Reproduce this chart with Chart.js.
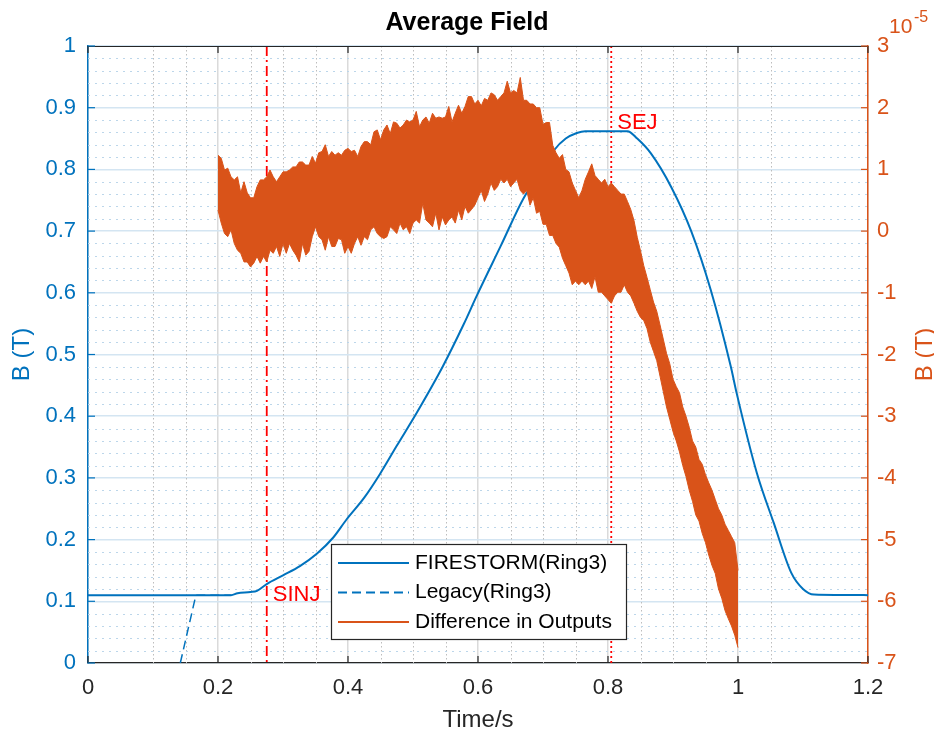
<!DOCTYPE html>
<html>
<head>
<meta charset="utf-8">
<script src="https://cdn.jsdelivr.net/npm/chart.js@4.4.1/dist/chart.umd.min.js"></script>
<style>
  html, body { margin: 0; padding: 0; background: #fff; }
</style>
</head>
<body>
<canvas id="field-chart" width="934" height="736"></canvas>
<script>
// FIRESTORM(Ring3) average field, B (T) on the left axis
const fireTime = [0, 0.22, 0.23, 0.25, 0.26, 0.275, 0.30, 0.326, 0.352, 0.377,
  0.398, 0.425, 0.449, 0.475, 0.506, 0.546, 0.578, 0.598, 0.635, 0.671,
  0.70, 0.717, 0.735, 0.752, 0.765, 0.83, 0.845, 0.866, 0.897, 0.928,
  0.958, 0.989, 0.998, 1.029, 1.055, 1.082, 1.10, 1.117, 1.2]
const fireField = [0.11, 0.11, 0.113, 0.115, 0.117, 0.128, 0.142, 0.157, 0.177, 0.203,
  0.233, 0.268, 0.306, 0.352, 0.406, 0.481, 0.549, 0.595, 0.676, 0.755,
  0.80, 0.831, 0.85, 0.859, 0.862, 0.862, 0.85, 0.826, 0.772, 0.70,
  0.605, 0.48, 0.437, 0.308, 0.227, 0.146, 0.12, 0.111, 0.11]

// Legacy(Ring3), only visible where it leaves the FIRESTORM trace
const legacyTime = [0.142, 0.166, 0.22]
const legacyField = [0, 0.11, 0.11]

// Difference in outputs (x1e-5 T, right axis): top and bottom edge of the noisy band
const diffTime = [0.200, 0.205, 0.210, 0.215, 0.220, 0.225, 0.230, 0.235, 0.240, 0.245,
  0.250, 0.255, 0.260, 0.265, 0.270, 0.275, 0.280, 0.285, 0.290, 0.295,
  0.300, 0.305, 0.310, 0.315, 0.320, 0.325, 0.330, 0.335, 0.340, 0.345,
  0.350, 0.355, 0.360, 0.365, 0.370, 0.375, 0.380, 0.385, 0.390, 0.395,
  0.400, 0.405, 0.410, 0.415, 0.420, 0.425, 0.430, 0.435, 0.440, 0.445,
  0.450, 0.455, 0.460, 0.465, 0.470, 0.475, 0.480, 0.485, 0.490, 0.495,
  0.500, 0.505, 0.510, 0.515, 0.520, 0.525, 0.530, 0.535, 0.540, 0.545,
  0.550, 0.555, 0.560, 0.565, 0.570, 0.575, 0.580, 0.585, 0.590, 0.595,
  0.600, 0.605, 0.610, 0.615, 0.620, 0.625, 0.630, 0.635, 0.640, 0.645,
  0.650, 0.655, 0.660, 0.665, 0.670, 0.675, 0.680, 0.685, 0.690, 0.695,
  0.700, 0.705, 0.710, 0.715, 0.720, 0.725, 0.730, 0.735, 0.740, 0.745,
  0.750, 0.755, 0.760, 0.765, 0.770, 0.775, 0.780, 0.785, 0.790, 0.795,
  0.800, 0.805, 0.810, 0.815, 0.820, 0.825, 0.830, 0.835, 0.840, 0.845,
  0.850, 0.855, 0.860, 0.865, 0.870, 0.875, 0.880, 0.885, 0.890, 0.895,
  0.900, 0.905, 0.910, 0.915, 0.920, 0.925, 0.930, 0.935, 0.940, 0.945,
  0.950, 0.955, 0.960, 0.965, 0.970, 0.975, 0.980, 0.985, 0.990, 0.995, 1.000]
const diffUpper = [1.23, 1.18, 0.99, 1.02, 0.88, 0.83, 0.88, 0.62, 0.80, 0.62,
  0.54, 0.54, 0.72, 0.83, 0.83, 0.88, 0.99, 0.88, 0.80, 0.88,
  0.96, 0.96, 0.99, 1.04, 1.04, 1.12, 1.12, 1.07, 1.07, 1.21,
  1.10, 1.27, 1.29, 1.40, 1.21, 1.29, 1.23, 1.27, 1.23, 1.31,
  1.34, 1.29, 1.31, 1.21, 1.37, 1.45, 1.45, 1.40, 1.61, 1.64,
  1.48, 1.64, 1.72, 1.58, 1.77, 1.75, 1.67, 1.72, 1.80, 1.77,
  1.80, 1.94, 1.69, 1.80, 1.85, 1.75, 1.91, 1.83, 1.85, 1.83,
  1.85, 2.02, 1.77, 1.91, 2.04, 1.91, 2.02, 2.18, 2.18, 2.06,
  2.12, 2.03, 2.15, 2.12, 2.24, 2.21, 2.12, 2.18, 2.24, 2.43,
  2.24, 2.28, 2.24, 2.49, 2.12, 2.12, 2.06, 2.06, 2.00, 2.00,
  1.73, 1.76, 1.76, 1.39, 1.27, 1.18, 1.24, 1.00, 0.96, 0.78,
  0.66, 0.54, 0.66, 0.84, 0.96, 1.09, 0.90, 0.84, 0.78, 0.84,
  0.72, 0.78, 0.72, 0.66, 0.60, 0.60, 0.48, 0.35, 0.17, -0.10,
  -0.32, -0.56, -0.75, -0.95, -1.15, -1.30, -1.52, -1.75, -1.98, -2.15,
  -2.40, -2.52, -2.62, -2.85, -3.00, -3.18, -3.40, -3.50, -3.70, -3.78,
  -3.95, -4.08, -4.20, -4.35, -4.50, -4.60, -4.75, -4.85, -4.95, -5.05, -5.50]
const diffLower = [0.34, 0.13, -0.04, -0.09, 0.02, -0.20, -0.31, -0.36, -0.50, -0.50,
  -0.58, -0.52, -0.41, -0.52, -0.41, -0.50, -0.31, -0.36, -0.25, -0.41,
  -0.20, -0.36, -0.20, -0.31, -0.39, -0.50, -0.20, -0.39, -0.33, -0.09,
  0.07, -0.09, -0.14, -0.31, -0.09, -0.25, -0.25, -0.12, -0.14, -0.36,
  -0.25, -0.36, -0.20, -0.09, -0.23, -0.09, -0.14, 0.02, 0.07, -0.04,
  -0.09, -0.12, -0.09, 0.07, 0.02, -0.04, 0.13, 0.02, 0.07, -0.04,
  0.13, 0.18, 0.13, 0.45, 0.18, 0.13, 0.07, 0.29, 0.02, 0.23,
  0.10, 0.18, 0.23, 0.13, 0.34, 0.18, 0.40, 0.29, 0.35, 0.42,
  0.54, 0.66, 0.48, 0.60, 0.78, 0.66, 0.72, 0.84, 0.78, 0.84,
  0.72, 0.78, 0.84, 0.66, 0.60, 0.66, 0.42, 0.54, 0.29, 0.32,
  0.11, 0.11, -0.07, -0.07, -0.20, -0.26, -0.44, -0.56, -0.68, -0.87,
  -0.81, -0.87, -0.81, -0.87, -0.81, -0.93, -0.74, -0.99, -0.99, -1.05,
  -1.11, -1.17, -1.05, -0.99, -0.99, -0.87, -0.99, -1.05, -1.17, -1.30,
  -1.40, -1.45, -1.58, -1.80, -1.95, -2.10, -2.35, -2.60, -2.85, -3.05,
  -3.25, -3.40, -3.58, -3.80, -3.98, -4.20, -4.38, -4.60, -4.70, -4.90,
  -5.05, -5.25, -5.42, -5.55, -5.80, -5.95, -6.15, -6.28, -6.40, -6.55, -6.75]

// injection / extraction markers
const markerTime = [0.275, 0.805]
const markerText = ['SINJ', 'SEJ']
const markerTextField = [0.11, 0.875]

const minorTimeTicks = [0.1, 0.15, 0.25, 0.3, 0.35, 0.45, 0.5, 0.55, 0.65, 0.7, 0.75, 0.85, 0.9, 0.95, 1.05]

const blue = '#0072BD'
const orange = '#D95319'
const axisGrey = '#262626'
const fontName = '"Liberation Sans", Arial, Helvetica, sans-serif'
Chart.defaults.font.family = fontName

function pairs(xs, ys) {
  return xs.map((x, i) => ({ x: x, y: ys[i] }))
}

function plainTick(value) {
  return String(Number(value.toFixed(2)))
}

const minorGrid = {
  id: 'minorGrid',
  beforeDatasetsDraw(chart) {
    const { ctx, chartArea: ca, scales } = chart
    ctx.save()
    ctx.lineWidth = 1
    ctx.strokeStyle = '#bdbdbd'
    ctx.setLineDash([1.5, 2.5])
    minorTimeTicks.forEach(t => {
      const px = Math.round(scales.x.getPixelForValue(t)) + 0.5
      ctx.beginPath(); ctx.moveTo(px, ca.top); ctx.lineTo(px, ca.bottom); ctx.stroke()
    })
    ctx.strokeStyle = '#bcd6ea'
    ctx.setLineDash([2, 5])
    for (let i = 1; i < 50; i++) {
      if (i % 5 === 0) continue
      const py = Math.round(scales.y.getPixelForValue(i * 0.02)) + 0.5
      ctx.beginPath(); ctx.moveTo(ca.left, py); ctx.lineTo(ca.right, py); ctx.stroke()
    }
    // SINJ (dash-dot) and SEJ (dotted)
    ctx.strokeStyle = '#ff0000'
    ctx.lineWidth = 1.8
    const dashes = [[10, 4, 2, 4], [2, 3]]
    markerTime.forEach((t, i) => {
      const px = scales.x.getPixelForValue(t)
      ctx.setLineDash(dashes[i])
      ctx.beginPath(); ctx.moveTo(px, ca.top); ctx.lineTo(px, ca.bottom); ctx.stroke()
    })
    ctx.restore()
  }
}

const axesDecor = {
  id: 'axesDecor',
  afterDatasetsDraw(chart) {
    const { ctx, chartArea: ca, scales } = chart
    ctx.save()
    ctx.setLineDash([])
    // marker labels
    ctx.fillStyle = '#ff0000'
    ctx.font = '22px ' + fontName
    ctx.textBaseline = 'middle'
    ctx.textAlign = 'left'
    markerTime.forEach((t, i) => {
      ctx.fillText(markerText[i], scales.x.getPixelForValue(t) + 6, scales.y.getPixelForValue(markerTextField[i]))
    })
    // box top edge
    ctx.strokeStyle = axisGrey
    ctx.lineWidth = 1.2
    ctx.beginPath(); ctx.moveTo(ca.left, ca.top + 0.5); ctx.lineTo(ca.right, ca.top + 0.5); ctx.stroke()
    // inward tick marks
    scales.x.ticks.forEach(tk => {
      const px = scales.x.getPixelForValue(tk.value)
      ctx.beginPath(); ctx.moveTo(px, ca.bottom); ctx.lineTo(px, ca.bottom - 7); ctx.stroke()
      ctx.beginPath(); ctx.moveTo(px, ca.top); ctx.lineTo(px, ca.top + 7); ctx.stroke()
    })
    ctx.strokeStyle = blue
    scales.y.ticks.forEach(tk => {
      const py = scales.y.getPixelForValue(tk.value)
      ctx.beginPath(); ctx.moveTo(ca.left, py); ctx.lineTo(ca.left + 7, py); ctx.stroke()
    })
    ctx.strokeStyle = orange
    scales.y1.ticks.forEach(tk => {
      const py = scales.y1.getPixelForValue(tk.value)
      ctx.beginPath(); ctx.moveTo(ca.right, py); ctx.lineTo(ca.right - 7, py); ctx.stroke()
    })
    ctx.restore()
  },
  afterDraw(chart) {
    const { ctx, chartArea: ca } = chart
    ctx.save()
    // right axis title, read bottom to top like MATLAB
    ctx.fillStyle = orange
    ctx.font = '24px ' + fontName
    ctx.textAlign = 'center'
    ctx.textBaseline = 'middle'
    ctx.translate(ca.right + 57, (ca.top + ca.bottom) / 2)
    ctx.rotate(-Math.PI / 2)
    ctx.fillText('B (T)', 0, 0)
    ctx.restore()

    // exponent of the right axis
    ctx.save()
    ctx.fillStyle = orange
    ctx.textAlign = 'left'
    ctx.textBaseline = 'alphabetic'
    ctx.font = '21px ' + fontName
    ctx.fillText('10', ca.right + 21, 33)
    ctx.font = '16px ' + fontName
    ctx.fillText('-5', ca.right + 46, 22)
    ctx.restore()

    // legend box inside the axes
    const rows = [2, 3, 0]
    const left = ca.left + 243, top = ca.top + 498, w = 295, h = 95
    ctx.save()
    ctx.fillStyle = '#ffffff'
    ctx.fillRect(left, top, w, h)
    ctx.strokeStyle = axisGrey
    ctx.lineWidth = 1.2
    ctx.strokeRect(left + 0.5, top + 0.5, w, h)
    ctx.font = '21px ' + fontName
    ctx.textBaseline = 'middle'
    ctx.textAlign = 'left'
    rows.forEach((di, r) => {
      const ds = chart.data.datasets[di]
      const y = top + 19 + r * 29.5
      ctx.strokeStyle = ds.borderColor
      ctx.lineWidth = 2
      ctx.setLineDash(ds.borderDash || [])
      ctx.beginPath(); ctx.moveTo(left + 7, y); ctx.lineTo(left + 78, y); ctx.stroke()
      ctx.setLineDash([])
      ctx.fillStyle = '#000000'
      ctx.fillText(ds.label, left + 84, y)
    })
    ctx.restore()
  }
}

const fieldChart = new Chart(document.getElementById('field-chart'), {
  type: 'line',
  data: {
    datasets: [{
      label: 'Difference in Outputs',
      data: pairs(diffTime, diffUpper),
      yAxisID: 'y1',
      borderColor: orange,
      borderWidth: 1,
      pointRadius: 0,
      fill: false,
      order: 0
    }, {
      label: 'Difference in Outputs (lower edge)',
      data: pairs(diffTime, diffLower),
      yAxisID: 'y1',
      borderColor: orange,
      backgroundColor: orange,
      borderWidth: 1,
      pointRadius: 0,
      fill: '-1',
      order: 0
    }, {
      label: 'FIRESTORM(Ring3)',
      data: pairs(fireTime, fireField),
      yAxisID: 'y',
      borderColor: blue,
      borderWidth: 2,
      pointRadius: 0,
      cubicInterpolationMode: 'monotone',
      fill: false,
      order: 1
    }, {
      label: 'Legacy(Ring3)',
      data: pairs(legacyTime, legacyField),
      yAxisID: 'y',
      borderColor: blue,
      borderWidth: 1.5,
      borderDash: [9, 5],
      pointRadius: 0,
      fill: false,
      order: 2
    }]
  },
  options: {
    responsive: false,
    animation: false,
    devicePixelRatio: 1,
    layout: { padding: 0 },
    scales: {
      x: {
        type: 'linear',
        min: 0,
        max: 1.2,
        afterFit: s => { s.height = 73 },
        ticks: { stepSize: 0.2, color: axisGrey, font: { size: 22 }, padding: 12, maxRotation: 0, callback: plainTick },
        grid: { color: '#dadada', lineWidth: 1.5, drawTicks: false },
        border: { color: axisGrey, width: 1.2 },
        title: { display: true, text: 'Time/s', color: axisGrey, font: { size: 24 }, padding: { top: 0, bottom: 1 } }
      },
      y: {
        position: 'left',
        min: 0,
        max: 1,
        afterFit: s => { s.width = 88 },
        ticks: { stepSize: 0.1, color: blue, font: { size: 22 }, padding: 12, callback: plainTick },
        grid: { color: '#d4e5f2', lineWidth: 1.5, drawTicks: false },
        border: { color: blue, width: 1.5 },
        title: { display: true, text: 'B (T)', color: blue, font: { size: 24 }, padding: { top: 8, bottom: 0 } }
      },
      y1: {
        position: 'right',
        min: -7,
        max: 3,
        afterFit: s => { s.width = 66 },
        ticks: { stepSize: 1, color: orange, font: { size: 22 }, padding: 9, callback: plainTick },
        grid: { drawOnChartArea: false, drawTicks: false },
        border: { color: orange, width: 1.5 }
      }
    },
    plugins: {
      title: {
        display: true,
        text: 'Average Field',
        color: '#000000',
        font: { size: 25, weight: 'bold' },
        padding: { top: 8, bottom: 8 }
      },
      legend: { display: false },
      tooltip: { enabled: false }
    }
  },
  plugins: [minorGrid, axesDecor]
})
</script>
</body>
</html>
